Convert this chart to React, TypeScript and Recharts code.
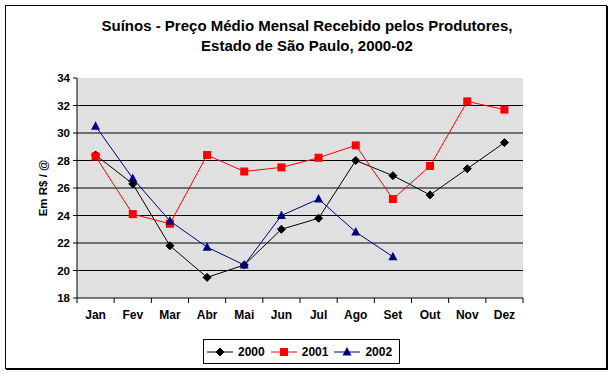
import React from 'react';
import { LineChart, Line, XAxis, YAxis, CartesianGrid, Legend } from 'recharts';

const months = ['Jan', 'Fev', 'Mar', 'Abr', 'Mai', 'Jun', 'Jul', 'Ago', 'Set', 'Out', 'Nov', 'Dez'];
const prices2000 = [28.4, 26.3, 21.8, 19.5, 20.4, 23.0, 23.8, 28.0, 26.9, 25.5, 27.4, 29.3];
const prices2001 = [28.3, 24.1, 23.4, 28.4, 27.2, 27.5, 28.2, 29.1, 25.2, 27.6, 32.3, 31.7];
const prices2002 = [30.5, 26.7, 23.6, 21.7, 20.4, 24.0, 25.2, 22.8, 21.0, null, null, null];
const yTicks = [18, 20, 22, 24, 26, 28, 30, 32, 34];
const gridValues = [20, 22, 24, 26, 28, 30, 32];

const data = months.map((m, i) => ({
  month: m,
  y2000: prices2000[i],
  y2001: prices2001[i],
  y2002: prices2002[i],
}));

const FONT = '"Liberation Sans", Arial, sans-serif';
const PLOT_W = 446;
const BAND = PLOT_W / months.length;

const Diamond = ({ cx, cy, color }: any) =>
  cx == null || cy == null ? null : (
    <path d={`M${cx},${cy - 4}L${cx + 4},${cy}L${cx},${cy + 4}L${cx - 4},${cy}Z`} fill={color} stroke={color} />
  );
const Square = ({ cx, cy, color }: any) =>
  cx == null || cy == null ? null : (
    <rect x={cx - 4} y={cy - 4} width={8} height={8} fill={color} />
  );
const Triangle = ({ cx, cy, color }: any) =>
  cx == null || cy == null ? null : (
    <path d={`M${cx},${cy - 5}L${cx + 4.5},${cy + 3.5}L${cx - 4.5},${cy + 3.5}Z`} fill={color} />
  );

const series = [
  { key: 'y2000', name: '2000', color: '#000000', Marker: Diamond },
  { key: 'y2001', name: '2001', color: '#ff0000', Marker: Square },
  { key: 'y2002', name: '2002', color: '#000080', Marker: Triangle },
];

// Excel style: tick marks sit between categories, labels centred below
const MonthTick = ({ x, y, payload, index }: any) => (
  <g>
    <line x1={x - BAND / 2} y1={y} x2={x - BAND / 2} y2={y + 5} stroke="#000" />
    {index === months.length - 1 && (
      <line x1={x + BAND / 2} y1={y} x2={x + BAND / 2} y2={y + 5} stroke="#000" />
    )}
    <text x={x} y={y + 21} textAnchor="middle" fontSize={12} fontWeight="bold" fill="#000" fontFamily={FONT}>
      {payload.value}
    </text>
  </g>
);

const LegendBox = () => (
  <div
    style={{
      border: '1px solid #000',
      background: '#fff',
      width: 195,
      height: 23,
      display: 'flex',
      alignItems: 'center',
      fontFamily: FONT,
      fontSize: 12,
      fontWeight: 'bold',
      boxSizing: 'content-box',
    }}
  >
    {series.map((s) => (
      <div key={s.key} style={{ display: 'flex', alignItems: 'center', marginLeft: 2, marginRight: 3 }}>
        <svg width={28} height={12}>
          <line x1={1} y1={6} x2={27} y2={6} stroke={s.color} />
          <s.Marker cx={14} cy={6} color={s.color} />
        </svg>
        <span style={{ marginLeft: 4 }}>{s.name}</span>
      </div>
    ))}
  </div>
);

export default function App() {
  return (
    <div style={{ position: 'absolute', left: 0, top: 0, width: 614, height: 376, background: '#fff' }}>
      <div
        style={{
          position: 'absolute',
          left: 5,
          top: 5,
          width: 600,
          height: 362,
          border: '1px solid #000',
          boxShadow: '1px 1px 0 #000',
        }}
      />
      <div
        style={{
          position: 'absolute',
          left: 0,
          top: 16,
          width: 614,
          textAlign: 'center',
          fontFamily: FONT,
          fontSize: 15,
          fontWeight: 'bold',
          lineHeight: '20px',
        }}
      >
        Suínos - Preço Médio Mensal Recebido pelos Produtores,
        <br />
        Estado de São Paulo, 2000-02
      </div>
      <div style={{ position: 'absolute', left: 0, top: 0 }}>
        <LineChart width={614} height={376} data={data} margin={{ top: 78, right: 91, bottom: 48, left: 0 }}>
          <CartesianGrid
            vertical={false}
            horizontalValues={gridValues}
            stroke="#000"
            fill="#e0e0e0"
            fillOpacity={1}
          />
          <XAxis
            dataKey="month"
            scale="band"
            height={30}
            tickSize={0}
            tickMargin={0}
            tickLine={false}
            axisLine={{ stroke: '#000' }}
            tick={<MonthTick />}
            interval={0}
          />
          <XAxis xAxisId="top" orientation="top" height={0} tick={false} tickLine={false} axisLine={{ stroke: '#a0a0a0' }} />
          <YAxis
            domain={[18, 34]}
            ticks={yTicks}
            width={77}
            tickSize={4}
            tickMargin={3}
            interval={0}
            axisLine={{ stroke: '#000' }}
            tickLine={{ stroke: '#000' }}
            tick={{ fontSize: 11.5, fontWeight: 'bold', fill: '#000', fontFamily: FONT }}
            label={{
              value: 'Em R$ / @',
              angle: -90,
              position: 'center',
              dx: 4,
              style: { fontSize: 11.5, fontWeight: 'bold', fill: '#000', fontFamily: FONT },
            }}
          />
          <YAxis yAxisId="right" orientation="right" width={0} tick={false} tickLine={false} axisLine={{ stroke: '#a0a0a0' }} />
          {series.map((s) => (
            <Line
              key={s.key}
              dataKey={s.key}
              name={s.name}
              type="linear"
              stroke={s.color}
              strokeWidth={1}
              dot={(p: any) => <s.Marker key={`${s.key}-${p.index}`} cx={p.cx} cy={p.cy} color={s.color} />}
              activeDot={false}
              isAnimationActive={false}
            />
          ))}
          <Legend
            layout="vertical"
            align="center"
            verticalAlign="middle"
            content={<LegendBox />}
            wrapperStyle={{ position: 'absolute', left: 203, top: 339, width: 197, height: 25 }}
          />
        </LineChart>
      </div>
    </div>
  );
}
